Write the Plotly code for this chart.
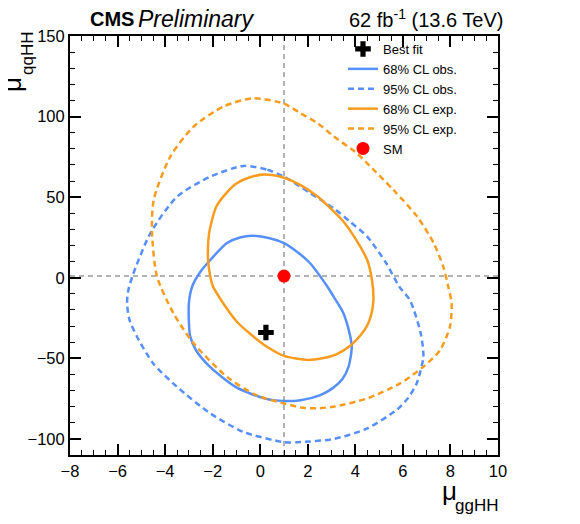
import plotly.graph_objects as go

# contour points (mu_ggHH, mu_qqHH)
obs68_x = [-0.3, 0.4, 1.0, 1.6, 2.1, 2.8, 3.1, 3.5, 3.78, 3.85, 3.72, 3.45, 3.05, 2.5, 1.7, 1.0, 0.2, -1.0, -2.1, -2.7, -2.95, -3.0, -2.85, -2.5, -2.1, -1.4, -0.85, -0.3]
obs68_y = [26, 24.5, 21.5, 15.5, 9, -5, -12, -22, -36, -43, -55, -63, -68.5, -73, -76, -76.5, -75, -68, -55.5, -45, -36, -16, -5, 4, 11, 21.5, 25, 26]

obs95_x = [-0.7, 0.3, 1.0, 2.1, 3.1, 3.8, 4.5, 5.3, 5.85, 6.3, 6.75, 6.86, 6.58, 6.2, 5.74, 4.5, 3.1, 1.7, 1.0, -0.7, -2.1, -3.5, -4.5, -5.18, -5.5, -5.6, -5.55, -5.35, -4.62, -3.5, -2.1, -0.7]
obs95_y = [69.4, 67, 62.7, 52.5, 43, 34.5, 25.5, 9, -5.6, -14, -34.5, -49, -65.6, -75, -82, -93.5, -100, -102, -102, -95.7, -84.2, -67.7, -53.2, -36.6, -26, -16, -8, 2, 27.6, 50.3, 62.7, 69.4]

exp68_x = [0.2, 1.0, 1.7, 2.4, 3.1, 3.55, 3.95, 4.5, 4.7, 4.76, 4.65, 4.45, 4.2, 3.8, 3.2, 2.6, 2.0, 1.0, 0.3, -0.45, -1.0, -1.55, -2.0, -2.15, -2.2, -2.15, -1.85, -1.4, -1.0, -0.4, 0.2]
exp68_y = [64, 62, 57.5, 50.5, 41, 34, 25.5, 11, -1.5, -14, -24, -31, -36, -42, -47.5, -50, -51, -48.5, -43, -34.5, -27, -16, -5, 5, 13, 27.5, 44, 53, 58.5, 62.5, 64]

exp95_x = [-0.3, 1.0, 1.7, 2.4, 3.1, 4.06, 4.5, 5.6, 6.6, 7.3, 7.7, 7.91, 8.05, 7.98, 7.56, 6.86, 5.88, 4.48, 3.08, 2.4, 1.7, 1.0, -0.15, -1.4, -2.8, -3.65, -4.34, -4.55, -4.48, -3.78, -2.8, -1.55, -0.3]
exp95_y = [111.4, 108, 102, 96, 87.6, 77.3, 71, 54.5, 38, 21.4, 6.8, -5.6, -16, -30.4, -45, -55.3, -65.6, -75, -80, -81, -80.5, -78, -73, -61.5, -40.7, -22, 0.6, 27.6, 48.3, 75.2, 93.8, 106.2, 111.4]

bestfit = [0.24, -34]
sm = [1, 1]

BLUE = "#5790fc"
ORANGE = "#f89c20"
FONT = "Liberation Sans, Arial, sans-serif"

fig = go.Figure()

fig.add_trace(go.Scatter(x=[bestfit[0]], y=[bestfit[1]], mode="markers", name="Best fit",
                         marker=dict(symbol="cross", size=13, color="black")))
fig.add_trace(go.Scatter(x=obs68_x, y=obs68_y, mode="lines", name="68% CL obs.",
                         line=dict(color=BLUE, width=2.5, shape="spline", smoothing=0.7)))
fig.add_trace(go.Scatter(x=obs95_x, y=obs95_y, mode="lines", name="95% CL obs.",
                         line=dict(color=BLUE, width=2.5, dash="6px,4px", shape="spline", smoothing=0.7)))
fig.add_trace(go.Scatter(x=exp68_x, y=exp68_y, mode="lines", name="68% CL exp.",
                         line=dict(color=ORANGE, width=2.5, shape="spline", smoothing=0.7)))
fig.add_trace(go.Scatter(x=exp95_x, y=exp95_y, mode="lines", name="95% CL exp.",
                         line=dict(color=ORANGE, width=2.5, dash="6px,4px", shape="spline", smoothing=0.7)))
fig.add_trace(go.Scatter(x=[sm[0]], y=[sm[1]], mode="markers", name="SM",
                         marker=dict(symbol="circle", size=13, color="red")))

# SM cross-hair
fig.add_shape(type="line", xref="x", yref="paper", x0=sm[0], x1=sm[0], y0=0, y1=1,
              line=dict(color="#999999", width=1.5, dash="5px,4px"), layer="below")
fig.add_shape(type="line", xref="paper", yref="y", x0=0, x1=1, y0=sm[1], y1=sm[1],
              line=dict(color="#999999", width=1.5, dash="5px,4px"), layer="below")

# frame edges in page pixels (page body adds an 8px offset)
L, R, T, B = 70, 498, 36, 455
OFF = 8


def px_x(p):
    return (p - L) / (R - L)


def px_y(p):
    return (B - p) / (B - T)


axis = dict(showline=True, linecolor="black", linewidth=2, mirror="allticks",
            ticks="inside", ticklen=11, tickwidth=1.5, tickcolor="black",
            showgrid=False, zeroline=False,
            tickfont=dict(family=FONT, size=16.5, color="black"))

fig.update_xaxes(range=[-8, 10], dtick=2, tick0=0,
                 minor=dict(dtick=0.5, ticks="inside", ticklen=5, tickwidth=1.2, tickcolor="black"),
                 **axis)
fig.update_yaxes(range=[-110, 150], dtick=50, tick0=0,
                 minor=dict(dtick=10, ticks="inside", ticklen=5, tickwidth=1.2, tickcolor="black"),
                 **axis)

ann = [
    dict(text="<b>CMS</b>", x=px_x(88), y=px_y(19), xanchor="left", yanchor="middle",
         font=dict(size=20)),
    dict(text="<i>Preliminary</i>", x=px_x(136), y=px_y(19), xanchor="left", yanchor="middle",
         font=dict(size=23)),
    dict(text="62 fb<sup>-1</sup> (13.6 TeV)", x=px_x(505), y=px_y(19), xanchor="right",
         yanchor="middle", font=dict(size=20)),
    dict(text="μ", x=px_x(449), y=px_y(491), xanchor="center", yanchor="middle",
         font=dict(size=26)),
    dict(text="ggHH", x=px_x(500), y=px_y(505), xanchor="right", yanchor="middle",
         font=dict(size=17)),
    dict(text="μ", x=px_x(12), y=px_y(85), xanchor="center", yanchor="middle",
         textangle=-90, font=dict(size=26)),
    dict(text="qqHH", x=px_x(27), y=px_y(54), xanchor="center", yanchor="middle",
         textangle=-90, font=dict(size=17)),
]
for a in ann:
    a.update(xref="paper", yref="paper", showarrow=False)
    a["font"].update(family=FONT, color="black")

fig.update_layout(
    width=580, height=524,
    margin=dict(l=L - OFF, r=580 - R + OFF, t=T - OFF, b=524 - B + OFF),
    paper_bgcolor="white", plot_bgcolor="white",
    font=dict(family=FONT, color="black"),
    annotations=ann,
    legend=dict(x=px_x(343), y=px_y(34), xanchor="left", yanchor="top",
                bgcolor="rgba(0,0,0,0)", font=dict(family=FONT, size=13, color="black")),
)

fig.write_html("out.html")
